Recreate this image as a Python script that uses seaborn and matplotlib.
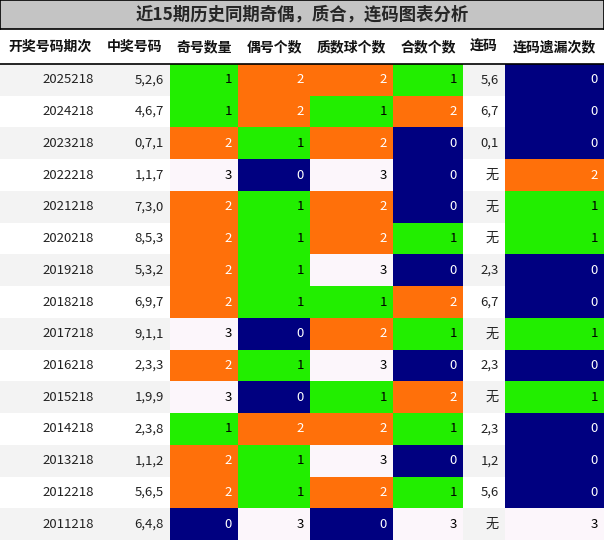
import matplotlib.pyplot as plt
import seaborn as sns
import numpy as np
from matplotlib.colors import ListedColormap

sns.set_theme(style="white")
plt.rcParams['font.family'] = ['Noto Sans CJK SC', 'DejaVu Sans']

title = "近15期历史同期奇偶，质合，连码图表分析"
headers = ["开奖号码期次", "中奖号码", "奇号数量", "偶号个数", "质数球个数", "合数个数", "连码", "连码遗漏次数"]
periods = ["2025218", "2024218", "2023218", "2022218", "2021218", "2020218", "2019218", "2018218",
           "2017218", "2016218", "2015218", "2014218", "2013218", "2012218", "2011218"]
numbers = ["5,2,6", "4,6,7", "0,7,1", "1,1,7", "7,3,0", "8,5,3", "5,3,2", "6,9,7",
           "9,1,1", "2,3,3", "1,9,9", "2,3,8", "1,1,2", "5,6,5", "6,4,8"]
odd_count = [1, 1, 2, 3, 2, 2, 2, 2, 3, 2, 3, 1, 2, 2, 0]
even_count = [2, 2, 1, 0, 1, 1, 1, 1, 0, 1, 0, 2, 1, 1, 3]
prime_count = [2, 1, 2, 3, 2, 2, 3, 1, 2, 3, 1, 2, 3, 2, 0]
composite_count = [1, 2, 0, 0, 0, 1, 0, 2, 1, 0, 2, 1, 0, 1, 3]
consecutive = ["5,6", "6,7", "0,1", "无", "无", "无", "2,3", "6,7", "无", "2,3", "无", "2,3", "1,2", "5,6", "无"]
miss_count = [0, 0, 0, 2, 1, 1, 0, 0, 1, 0, 1, 0, 0, 0, 3]

col_widths = [100, 70, 68, 72, 83, 70, 42, 99]
columns = [periods, numbers, odd_count, even_count, prime_count, composite_count, consecutive, miss_count]
numeric = [False, False, True, True, True, True, False, True]

palette = ["#000080", "#22EE00", "#FF700A", "#FCF6FB"]
text_col = ["white", "black", "white", "black"]
stripe = ListedColormap(["#F3F3F3", "#FFFFFF"])
cmap = ListedColormap(palette)

W, H = 604, 540
fig = plt.figure(figsize=(W / 100, H / 100), dpi=100)
top_rows = 64
n = len(periods)

x0 = 0
for j, (w, col) in enumerate(zip(col_widths, columns)):
    ax = fig.add_axes([x0 / W, 0, w / W, (H - top_rows) / H])
    if numeric[j]:
        data = np.array(col).reshape(-1, 1)
        sns.heatmap(data, ax=ax, cmap=cmap, vmin=-0.5, vmax=3.5, cbar=False,
                    xticklabels=False, yticklabels=False)
    else:
        data = (np.arange(n) % 2).reshape(-1, 1)
        sns.heatmap(data, ax=ax, cmap=stripe, vmin=-0.5, vmax=1.5, cbar=False,
                    xticklabels=False, yticklabels=False)
    for i, v in enumerate(col):
        color = text_col[v] if numeric[j] else "#222222"
        ax.text(1 - 6 / w, i + 0.5, str(v), ha="right", va="center", fontsize=9.5, color=color)
    # header
    fig.text((x0 + w / 2) / W, 1 - 47 / H, headers[j], ha="center", va="center",
             fontsize=10, fontweight="bold", color="#111111")
    x0 += w

# title bar
tax = fig.add_axes([0, 1 - 29 / H, 1, 29 / H])
tax.set_facecolor("#C4C4C4")
tax.set_xticks([])
tax.set_yticks([])
for s in tax.spines.values():
    s.set_color("black")
    s.set_linewidth(1.2)
tax.text(0.5, 0.5, title, ha="center", va="center", fontsize=12.5, fontweight="bold",
         transform=tax.transAxes)
fig.add_artist(plt.Line2D([0, 1], [1 - top_rows / H] * 2, color="black", lw=1.2))

fig.savefig("out.png", dpi=100)
